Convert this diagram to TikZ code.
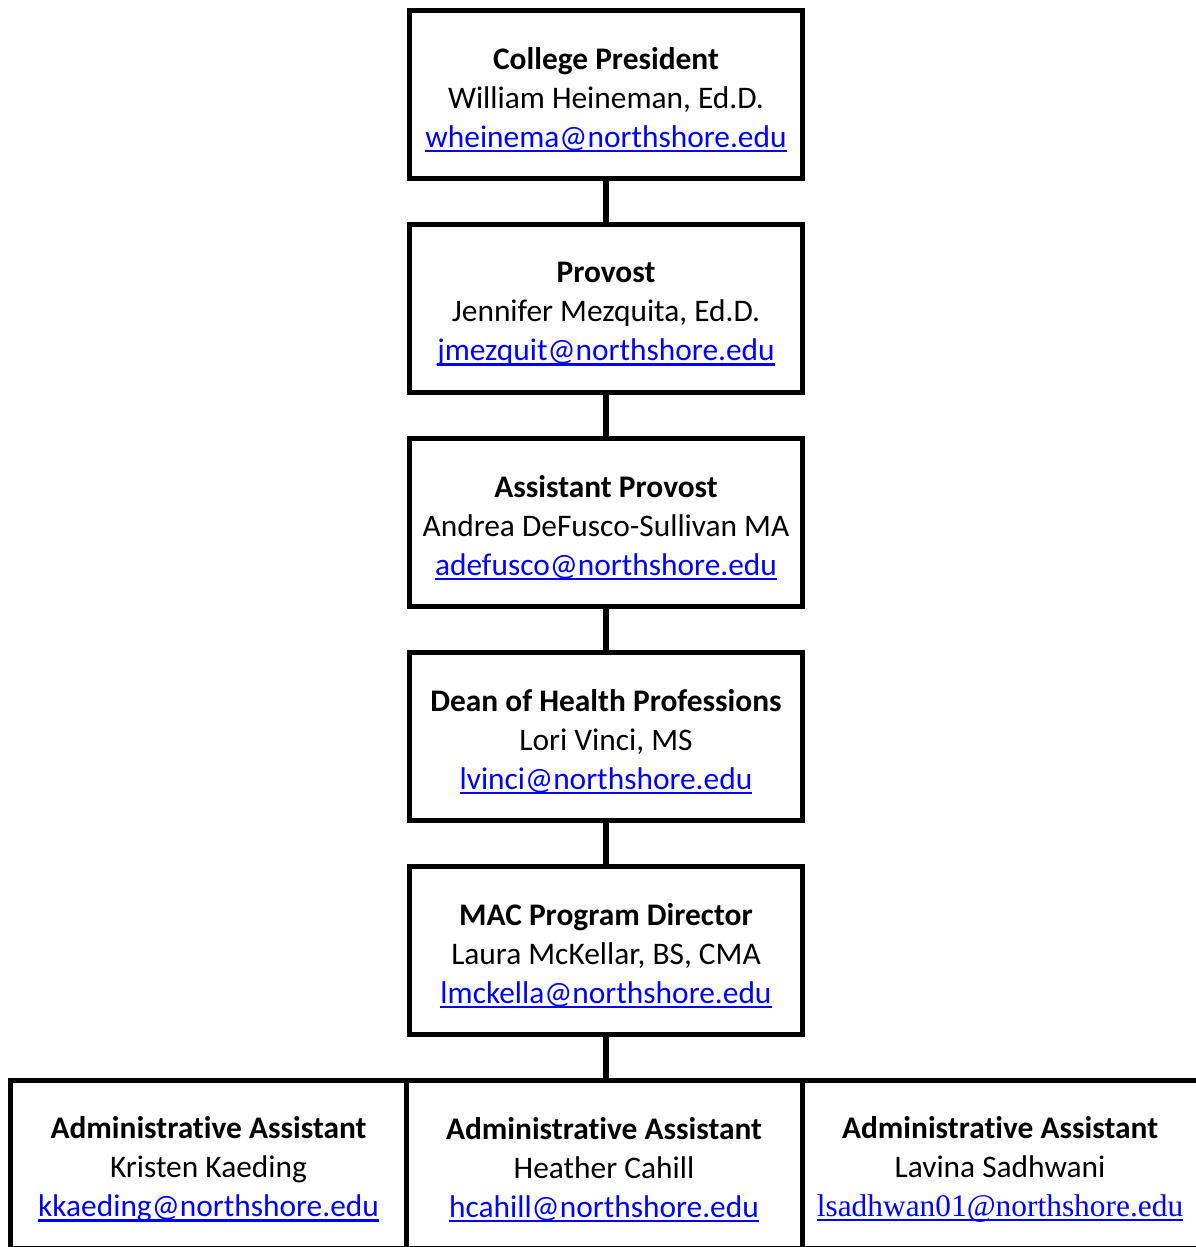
\documentclass[tikz,border=0pt]{standalone}
\usepackage{fontspec}
\setmainfont{Carlito}[Ligatures=NoCommon]
\newfontfamily\serifmail{Liberation Serif}
\usetikzlibrary{positioning}
\definecolor{linkblue}{RGB}{0,0,255}
\newcommand\post[1]{\rule{0pt}{16pt}\textbf{#1}}
\newcommand\mail[1]{\textcolor{linkblue}{\setbox0=\hbox{#1}%
    \rlap{\copy0}\raisebox{-2.4pt}{\rule{\wd0}{1.1pt}}}}

\begin{document}
\begin{tikzpicture}[x=0.5pt,y=-0.5pt,
  officebox/.style={draw, line width=2.5pt, minimum width=196.5pt,
    minimum height=84pt, align=center,
    font=\fontsize{15.7}{19.5}\selectfont},
  cellbox/.style={officebox, minimum width=198pt},
  link/.style={line width=3pt},
  node distance=20.5pt]

  \useasboundingbox (0,0) rectangle (1195,1247);

  % chain of offices
  \node[officebox] (president) at (606,94.5)
  {\post{College President}\\William Heineman, Ed.D.\\
    \mail{wheinema@northshore.edu}};
  \node[officebox, below=of president] (provost)
  {\post{Provost}\\Jennifer Mezquita, Ed.D.\\
    \mail{jmezquit@northshore.edu}};
  \node[officebox, below=of provost] (asstprov)
  {\post{Assistant Provost}\\Andrea DeFusco-Sullivan MA\\
    \mail{adefusco@northshore.edu}};
  \node[officebox, below=of asstprov] (dean)
  {\post{Dean of Health Professions}\\Lori Vinci, MS\\
    \mail{lvinci@northshore.edu}};
  \node[officebox, below=of dean] (director)
  {\post{MAC Program Director}\\Laura McKellar, BS, CMA\\
    \mail{lmckella@northshore.edu}};

  % assistants row
  \node[cellbox] (assta) at (208.5,1164.5)
  {\post{Administrative Assistant}\\Kristen Kaeding\\
    \mail{kkaeding@northshore.edu}};
  \node[cellbox] (asstb) at (604,1164.5)
  {\post{Administrative Assistant}\\Heather Cahill\\
    \mail{hcahill@northshore.edu}};
  \node[cellbox] (asstc) at (1000,1164.5)
  {\post{Administrative Assistant}\\Lavina Sadhwani\\
    \mail{\serifmail lsadhwan01@northshore.edu}};

  \draw[link] (president) -- (provost);
  \draw[link] (provost) -- (asstprov);
  \draw[link] (asstprov) -- (dean);
  \draw[link] (dean) -- (director);
  \draw[link] (director.south) -- (director.south |- asstb.north);

\end{tikzpicture}
\end{document}
